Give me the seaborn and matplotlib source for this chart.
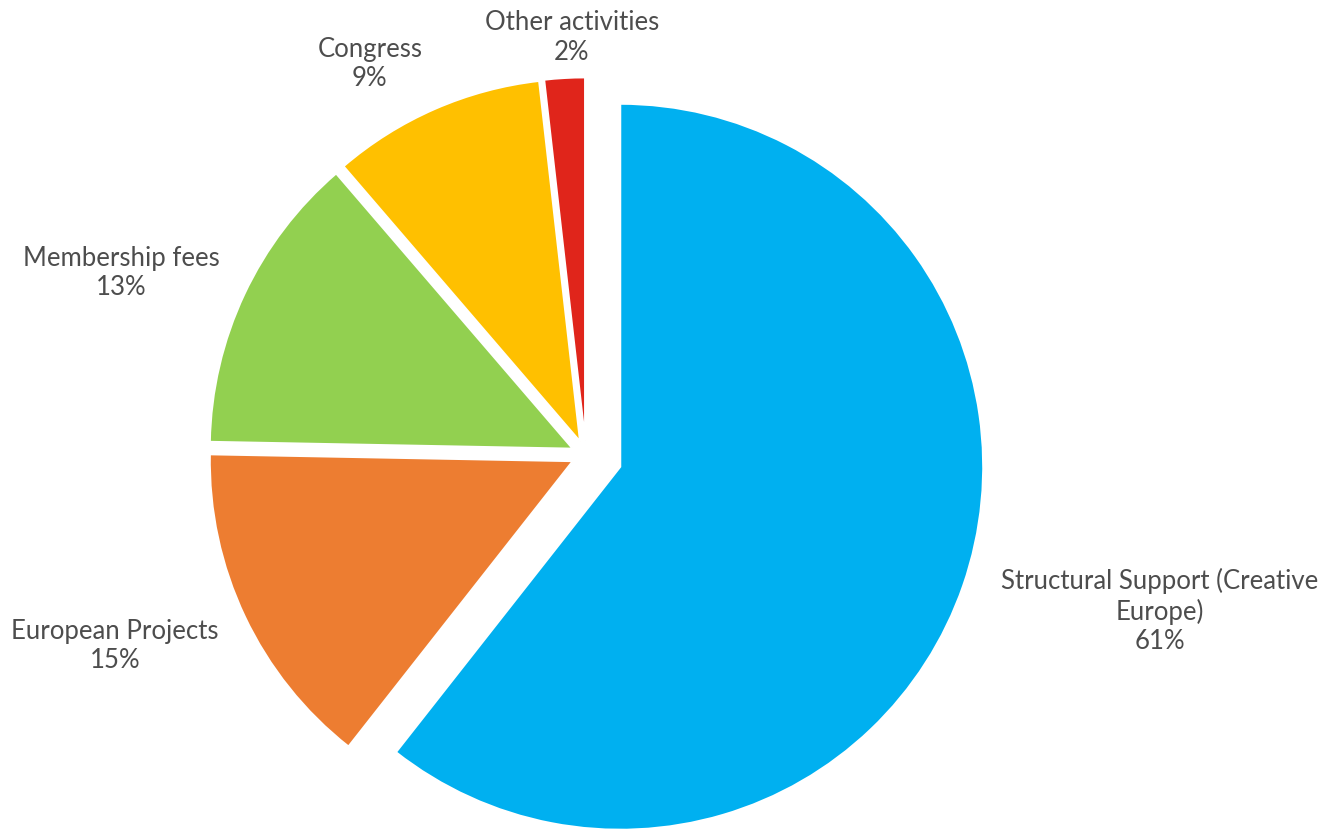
import matplotlib
matplotlib.use("Agg")
import matplotlib.pyplot as plt
import seaborn as sns

categories = ["Structural Support (Creative\nEurope)", "European Projects", "Membership fees", "Congress", "Other activities"]
values = [60.6, 14.7, 13.4, 9.5, 1.8]          # slice sizes
pct_labels = ["61%", "15%", "13%", "9%", "2%"]  # percentages as printed
colors = ["#00B0F0", "#ED7D31", "#92D050", "#FFC000", "#E0251B"]
explode = [0.10, 0.04, 0.04, 0.04, 0.04]

# label anchor positions (layout, data units of radius)
label_pos = [(1.581, -0.430), (-1.298, -0.526), (-1.281, 0.501), (-0.595, 1.077), (-0.039, 1.150)]

sns.set_theme(style="white")
plt.rcParams['font.family'] = ['Lato', 'DejaVu Sans']

fig = plt.figure(figsize=(13.33, 8.35), dpi=100)
ax = fig.add_axes([0, 0, 1, 1])
wedges, _ = ax.pie(values, colors=colors, explode=explode, startangle=90,
                   counterclock=False, radius=1.0,
                   wedgeprops=dict(edgecolor="white", linewidth=1.5))
for cat, p, (x, y) in zip(categories, pct_labels, label_pos):
    ax.text(x, y, f"{cat}\n{p}", ha="center", va="center", fontsize=18.5,
            color="#4d4d4d", linespacing=1.22)

ax.set_xlim(-1.614, 2.058)
ax.set_ylim(-1.047, 1.253)
ax.set_aspect("equal")
ax.axis("off")
fig.savefig("out.png", dpi=100, facecolor="white")
